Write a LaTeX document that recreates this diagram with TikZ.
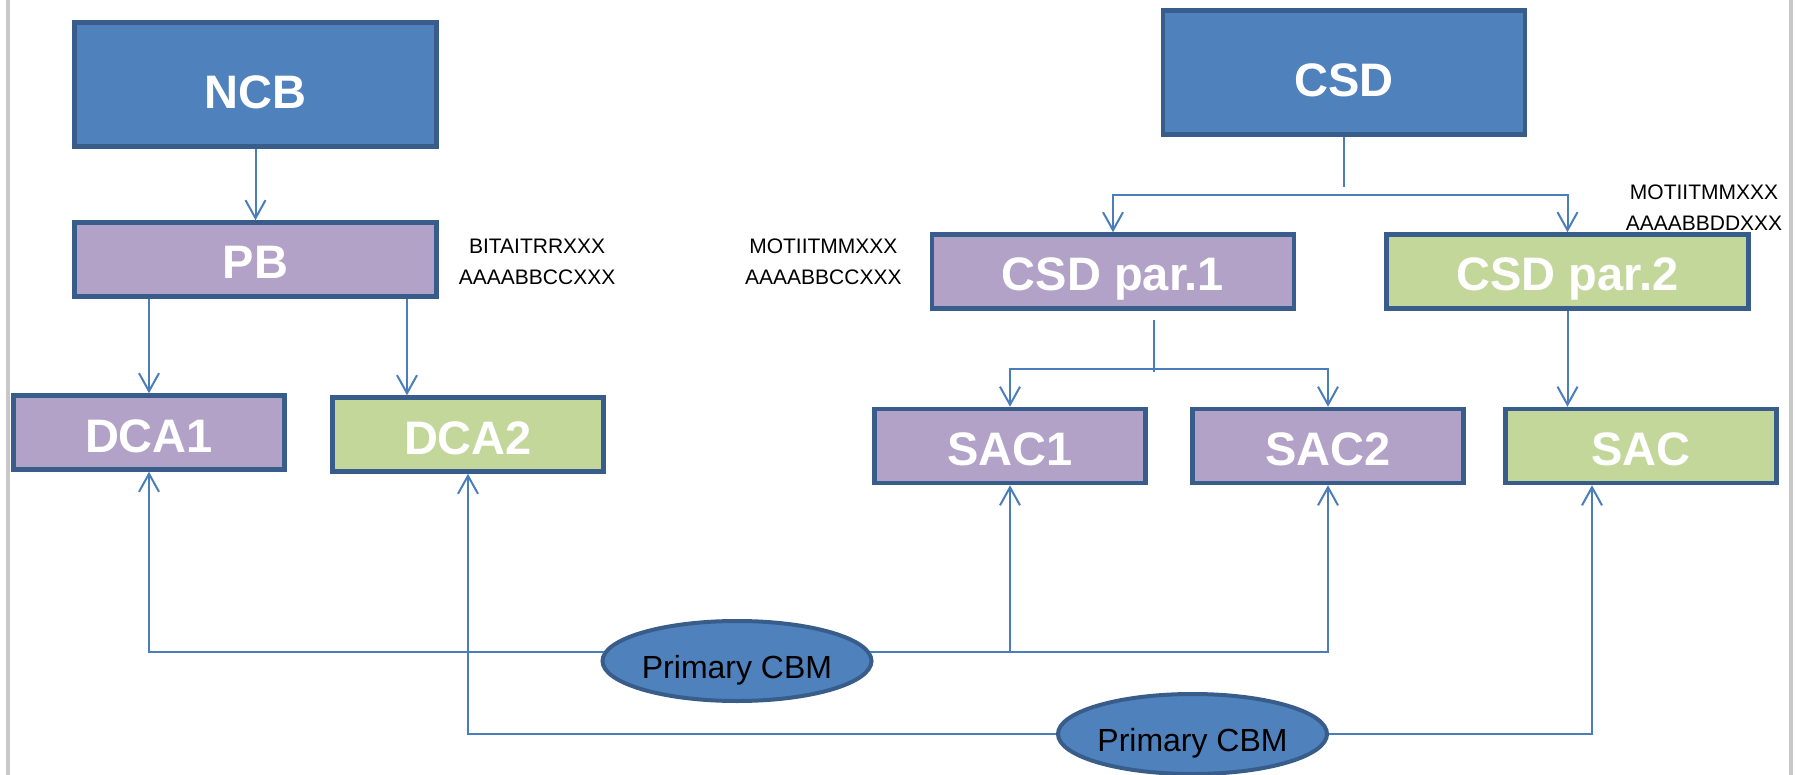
\documentclass[tikz,border=0pt]{standalone}
\usepackage{fontspec}
\setmainfont{Liberation Sans}
\usepackage{xcolor}
\usetikzlibrary{arrows.meta,positioning,calc,shapes.geometric}

\definecolor{headblue}{HTML}{4F81BD}
\definecolor{edgeblue}{HTML}{385D8A}
\definecolor{parpurple}{HTML}{B2A2C7}
\definecolor{pargreen}{HTML}{C4D79B}
\definecolor{linkblue}{HTML}{4A7EBB}
\definecolor{framegray}{HTML}{C8C8C8}

\begin{document}
\begin{tikzpicture}[
  x=1pt, y=-1pt,
  box/.style={draw=edgeblue, line width=4.5pt, fill=parpurple, text=white,
    font=\fontsize{47}{56}\selectfont\bfseries, text height=39pt, text depth=0pt,
    inner sep=0pt, minimum width=362pt, minimum height=74pt},
  headbox/.style={box, fill=headblue, minimum height=124pt, text height=48pt},
  leafbox/.style={box, minimum width=271pt},
  green/.style={fill=pargreen},
  cbm/.style={ellipse, draw=edgeblue, line width=4pt, fill=headblue, text=black,
    font=\fontsize{32}{38}\selectfont, text height=35pt, text depth=0pt,
    inner sep=0pt, minimum width=268pt, minimum height=80pt},
  code/.style={align=center, inner sep=0pt, font=\fontsize{21}{31}\selectfont},
  arrow/.style={draw=linkblue, line width=2pt, -{Straight Barb[length=18pt, width=20pt]}},
  stub/.style={draw=linkblue, line width=2pt},
  frame/.style={draw=framegray, line width=4pt}
]
\useasboundingbox (0,0) rectangle (1795,775);
\draw[frame] (8,0) -- (8,775);
\draw[frame] (1791,0) -- (1791,775);

% left tree
\node[headbox] (ncb) at (255.5,84.5) {NCB};
\node[box] (pb) at (255.5,259.5) {PB};
\node[leafbox] (dca1) at (149,432.5) {DCA1};
\node[leafbox, green] (dca2) at (468,434.5) {DCA2};
\node[code, right=20pt of pb, yshift=-2pt] (pbcode) {BITAITRRXXX\\AAAABBCCXXX};

% right tree
\node[headbox] (csd) at (1344,72.5) {CSD};
\node[box] (par1) at (1113,271.5) {CSD par.1};
\node[box, green] (par2) at (1567.5,271.5) {CSD par.2};
\node[leafbox] (sac1) at (1010,446) {SAC1};
\node[leafbox] (sac2) at (1328,446) {SAC2};
\node[leafbox, green] (sac) at (1641,446) {SAC};
\node[code, left=28pt of par1, yshift=10pt] (par1code) {MOTIITMMXXX\\AAAABBCCXXX};
\node[code] (par2code) at (1704,208) {MOTIITMMXXX\\AAAABBDDXXX};

% primary CBM
\node[cbm] (cbm1) at (737,661) {Primary CBM};
\node[cbm] (cbm2) at (1192.5,734) {Primary CBM};

\draw[arrow] (ncb.south) -- (pb.north);
\draw[arrow] (pb.south -| dca1.north) -- (dca1.north);
\draw[arrow] ([xshift=-61pt]dca2.north |- pb.south) -- ([xshift=-61pt]dca2.north);

\draw[stub] (csd.south) -- ++(0,50);
\coordinate (csdfork) at ($(csd.south)+(0,58)$);
\draw[arrow] (csdfork) -| (par1.north);
\draw[arrow] (csdfork) -| (par2.north);

\draw[stub] ($(par1.south)+(41,9)$) -- ++(0,52);
\coordinate (parfork) at ($(par1.south)+(41,58)$);
\draw[arrow] (parfork) -| (sac1.north);
\draw[arrow] (parfork) -| (sac2.north);
\draw[arrow] (par2.south) -- (par2.south |- sac.north);

\draw[arrow] (cbm1.176) -| (dca1.south);
\draw[arrow] (cbm1.4) -| (sac1.south);
\draw[arrow] (cbm1.4) -| (sac2.south);
\draw[arrow] (cbm2.west) -| (dca2.south);
\draw[arrow] (cbm2.east) -| ([xshift=-49pt]sac.south);
\end{tikzpicture}
\end{document}
